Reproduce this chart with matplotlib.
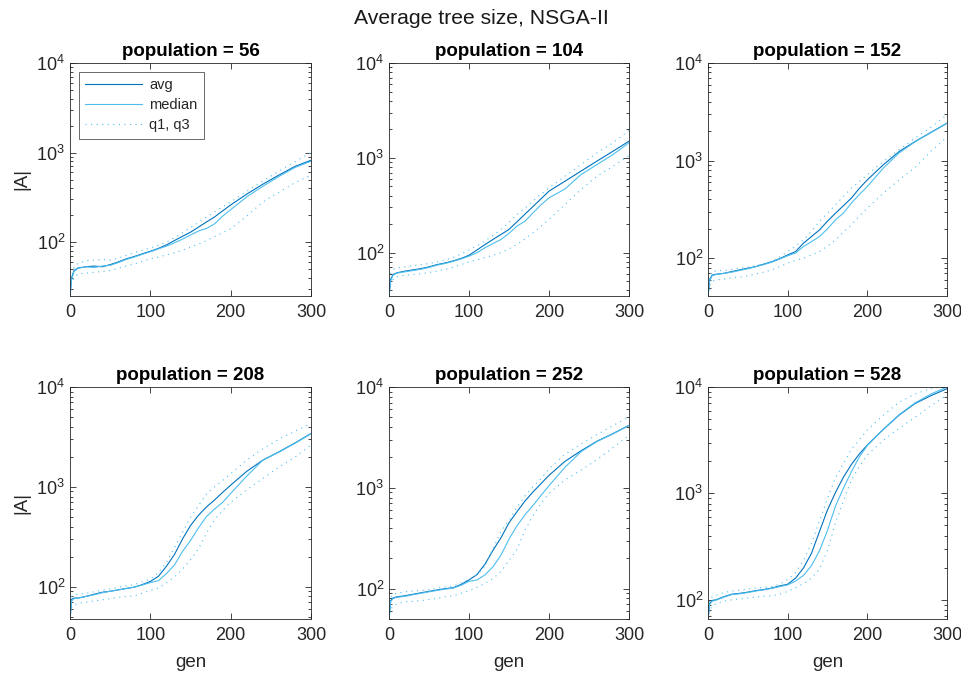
import matplotlib
matplotlib.use("Agg")
import matplotlib.pyplot as plt
import numpy as np
from matplotlib.ticker import LogLocator, FixedLocator, NullFormatter, LogFormatterMathtext

plt.rcParams['font.family'] = ['Liberation Sans', 'DejaVu Sans']
plt.rcParams['mathtext.fontset'] = 'custom'
plt.rcParams['mathtext.rm'] = 'Liberation Sans'
plt.rcParams['mathtext.it'] = 'Liberation Sans:italic'
plt.rcParams['mathtext.bf'] = 'Liberation Sans:bold'

# generations at which the statistics are sampled
gens = [0, 2, 5, 10, 20, 30, 40, 50, 60, 70, 80, 90, 100, 110, 120, 130, 140,
        150, 160, 170, 180, 190, 200, 220, 240, 260, 280, 300]

populations = [56, 104, 152, 208, 252, 528]

# population = 56
avg_56 = [25, 40, 48, 51.5, 53, 54, 53, 56, 60, 65, 69, 74, 79, 85, 93, 104, 116,
          129, 147, 168, 191, 223, 260, 343, 443, 560, 700, 820]
med_56 = [25, 38, 47, 51, 53, 52, 54, 55, 59, 64, 68, 73, 78, 84, 90, 98, 108,
          120, 133, 142, 160, 195, 230, 320, 420, 540, 680, 800]
q3_56 = [25, 42, 52, 58, 62, 63, 64, 63, 66, 71, 76, 81, 86, 92, 100, 112, 127,
         145, 165, 190, 218, 248, 280, 370, 480, 620, 790, 1000]
q1_56 = [25, 35, 40, 44, 45, 46, 47, 48, 51, 54, 57, 61, 65, 68, 72, 76, 81,
         88, 95, 104, 115, 127, 141, 195, 280, 360, 460, 560]

# population = 104
avg_104 = [35, 52, 59, 61.5, 64, 66, 68, 71, 75, 78, 82, 87, 94, 107, 122, 138, 156,
           176, 212, 255, 307, 370, 446, 568, 725, 925, 1175, 1500]
med_104 = [35, 50, 58, 61, 63, 65, 67, 70, 74, 77, 81, 86, 92, 100, 113, 125, 138,
           160, 191, 215, 263, 320, 379, 470, 667, 850, 1085, 1440]
q3_104 = [35, 60, 67, 69, 71, 73, 75, 77, 80, 84, 89, 97, 107, 118, 133, 152, 176,
          210, 253, 295, 350, 415, 483, 640, 850, 1130, 1440, 1950]
q1_104 = [35, 48, 52, 56, 58, 59, 60, 62, 64, 67, 70, 75, 80, 84, 89, 94, 100,
          110, 122, 140, 162, 190, 224, 323, 464, 641, 815, 1060]

# population = 152
avg_152 = [41, 60, 67, 68.5, 70, 73, 76, 79, 82, 87, 92, 99, 108, 117, 143, 167, 195,
           240, 289, 345, 413, 520, 635, 905, 1240, 1570, 1950, 2420]
med_152 = [41, 58, 66, 68, 70, 72, 75, 78, 82, 86, 91, 98, 106, 113, 132, 148, 167,
           200, 247, 290, 367, 450, 543, 837, 1200, 1560, 1940, 2410]
q3_152 = [41, 66, 73, 74, 75, 77, 79, 81, 84, 88, 92, 103, 117, 133, 154, 190, 238,
          290, 352, 430, 522, 610, 715, 980, 1290, 1700, 2200, 2960]
q1_152 = [41, 52, 58, 60, 61, 63, 64, 66, 69, 72, 76, 82, 89, 95, 100, 108, 117,
          133, 154, 185, 220, 270, 326, 464, 636, 850, 1250, 1740]

# population = 208
avg_208 = [47.5, 75, 77, 77, 80, 84, 88, 90, 93, 96, 99, 105, 113, 127, 160, 210, 300,
           410, 520, 630, 740, 880, 1040, 1430, 1850, 2240, 2750, 3420]
med_208 = [47.5, 72, 76, 77, 80, 83, 87, 90, 93, 96, 99, 104, 110, 115, 135, 165, 225,
           290, 390, 505, 600, 700, 860, 1280, 1850, 2230, 2730, 3400]
q3_208 = [47.5, 80, 83, 84, 86, 89, 92, 95, 99, 102, 105, 112, 119, 138, 175, 245, 350,
          495, 650, 850, 1000, 1160, 1350, 1850, 2400, 3000, 3600, 4320]
q1_208 = [47.5, 62, 66, 68, 70, 72, 74, 76, 78, 80, 81, 86, 92, 97, 109, 125, 150,
          186, 240, 346, 470, 580, 700, 933, 1210, 1580, 1980, 2620]

# population = 252
avg_252 = [50, 76, 81, 83, 85, 88, 91, 94, 97, 100, 102, 110, 122, 138, 175, 240, 320,
           450, 580, 740, 910, 1100, 1330, 1830, 2330, 2900, 3450, 4170]
med_252 = [50, 74, 80, 82, 84, 87, 90, 93, 96, 99, 101, 108, 118, 122, 137, 165, 215,
           310, 420, 540, 670, 840, 1050, 1600, 2280, 2880, 3430, 4150]
q3_252 = [50, 82, 88, 90, 93, 95, 96, 98, 101, 104, 106, 114, 124, 137, 165, 250, 370,
          475, 640, 830, 1030, 1230, 1550, 2150, 2720, 3370, 4150, 5050]
q1_252 = [50, 62, 67, 71, 74, 75, 76, 78, 80, 83, 85, 90, 95, 103, 113, 126, 148,
          190, 245, 380, 530, 700, 880, 1200, 1500, 1900, 2500, 3330]

# population = 528
avg_528 = [66, 92, 98.6, 100, 107, 113, 115, 118, 122, 125, 129, 135, 140, 160, 200, 275, 440,
           700, 1020, 1420, 1870, 2350, 2850, 3990, 5450, 7000, 8300, 9640]
med_528 = [66, 90, 97, 99, 106, 112, 114, 117, 121, 124, 128, 133, 138, 150, 170, 210, 290,
           450, 760, 1120, 1600, 2200, 2820, 4000, 5500, 7100, 8600, 10000]
q3_528 = [66, 100, 106, 110, 117, 121, 123, 126, 129, 131, 133, 140, 155, 180, 235, 340, 550,
          900, 1400, 1900, 2600, 3200, 3950, 5420, 7200, 8600, 9700, 10500]
q1_528 = [66, 80, 87, 92, 97, 100, 102, 104, 106, 108, 109, 113, 120, 130, 142, 160, 195,
          290, 530, 850, 1330, 1800, 2300, 3160, 4100, 5200, 6700, 8400]

series = [
    (avg_56, med_56, q1_56, q3_56),
    (avg_104, med_104, q1_104, q3_104),
    (avg_152, med_152, q1_152, q3_152),
    (avg_208, med_208, q1_208, q3_208),
    (avg_252, med_252, q1_252, q3_252),
    (avg_528, med_528, q1_528, q3_528),
]

C_AVG = '#0072BD'
C_LIGHT = '#4DBEEE'
AX_COLOR = '#262626'
LW = 0.8
DOT = (0, (1, 4))

fig = plt.figure(figsize=(9.62, 6.75), dpi=100)

W, H = 962.0, 675.0
lefts = [70, 389, 708]
widths = [241, 240, 239]
rows = [(63, 296), (387, 619)]

for i, (pop, (avg, med, q1, q3)) in enumerate(zip(populations, series)):
    r, c = divmod(i, 3)
    top, bot = rows[r]
    ax = fig.add_axes([lefts[c] / W, 1 - bot / H, widths[c] / W, (bot - top) / H])
    ax.plot(gens, avg, color=C_AVG, lw=LW, label='avg')
    ax.plot(gens, med, color=C_LIGHT, lw=LW, label='median')
    ax.plot(gens, q1, color=C_LIGHT, lw=LW, ls=DOT, label='q1, q3')
    ax.plot(gens, q3, color=C_LIGHT, lw=LW, ls=DOT)
    ax.set_yscale('log')
    ax.set_xlim(0, 300)
    ax.set_ylim(min(avg), 1e4)
    ax.xaxis.set_major_locator(FixedLocator([0, 100, 200, 300]))
    ax.yaxis.set_major_locator(LogLocator(base=10, numticks=10))
    ax.yaxis.set_major_formatter(LogFormatterMathtext())
    ax.yaxis.set_minor_locator(LogLocator(base=10, subs=np.arange(2, 10), numticks=20))
    ax.yaxis.set_minor_formatter(NullFormatter())
    ax.tick_params(which='both', direction='in', top=True, right=True,
                   colors=AX_COLOR, labelsize=13, width=0.6)
    ax.tick_params(which='major', length=4)
    ax.tick_params(which='minor', length=2.2)
    ax.tick_params(axis='x', pad=6)
    for s in ax.spines.values():
        s.set_color(AX_COLOR)
        s.set_linewidth(0.6)
    ax.set_title(f'population = {pop}', fontsize=13.5, fontweight='bold', pad=5)
    if c == 0:
        ax.set_ylabel('|A|', fontsize=13.5, color=AX_COLOR, labelpad=4)
    if r == 1:
        ax.set_xlabel('gen', fontsize=13.5, color=AX_COLOR, labelpad=7)
    if i == 0:
        leg = ax.legend(loc='upper left', fontsize=10.5, frameon=True, fancybox=False,
                        handlelength=3.9, borderaxespad=0.6, labelspacing=0.4,
                        handletextpad=0.5, borderpad=0.45)
        leg.get_frame().set_edgecolor(AX_COLOR)
        leg.get_frame().set_linewidth(0.6)
        for t in leg.get_texts():
            t.set_color(AX_COLOR)

fig.suptitle('Average tree size, NSGA-II', fontsize=15.2, y=0.987, color='#1a1a1a')

fig.savefig('out.png', dpi=100, facecolor='white')
